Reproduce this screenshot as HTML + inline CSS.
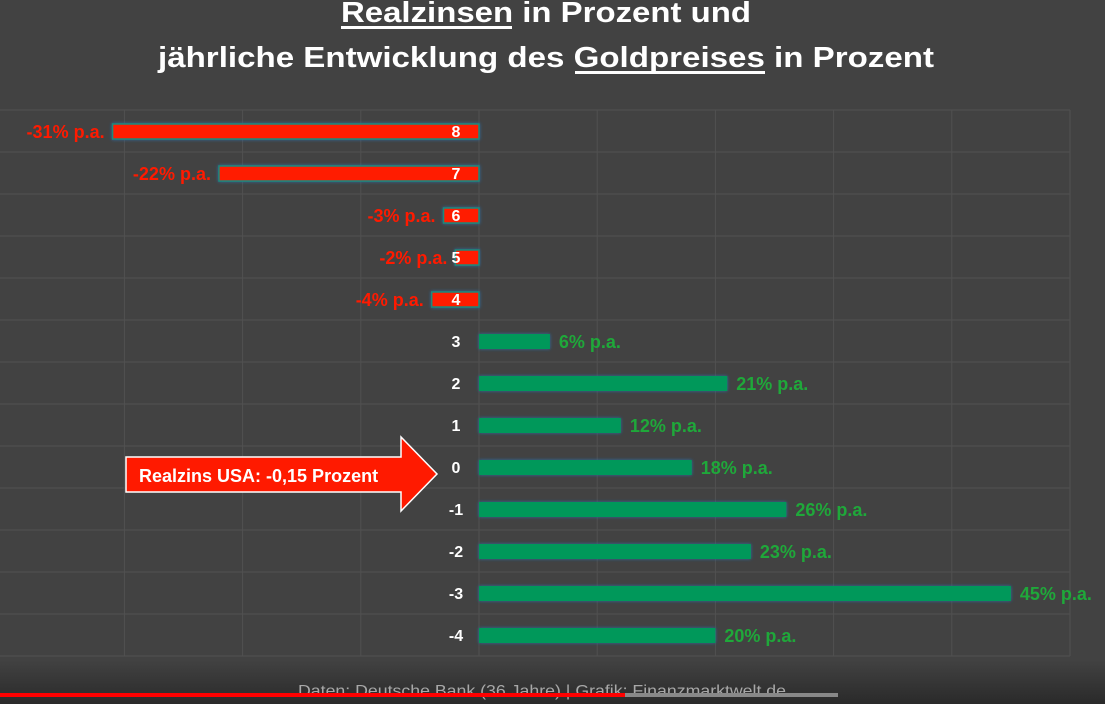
<!DOCTYPE html>
<html><head><meta charset="utf-8"><style>
html,body{margin:0;padding:0;background:#424242;}
svg{display:block;font-family:"Liberation Sans",sans-serif;}
</style></head><body>
<svg id="chart" width="1105" height="704" viewBox="0 0 1105 704">
<defs>
<linearGradient id="bot" x1="0" y1="0" x2="0" y2="1"><stop offset="0" stop-color="#424242"/><stop offset="1" stop-color="#2a2a2a"/></linearGradient>
<filter id="glow" x="-10%" y="-50%" width="120%" height="200%"><feDropShadow dx="0" dy="0" stdDeviation="1.5" flood-color="#2a6fb0" flood-opacity="0.9"/></filter>
</defs>
<rect width="1105" height="704" fill="#424242"/>
<rect y="660" width="1105" height="44" fill="url(#bot)"/>
<g fill="#fff" font-weight="bold" text-anchor="middle" font-size="29">
<text x="546" y="22" textLength="410" lengthAdjust="spacingAndGlyphs">Realzinsen in Prozent und</text>
<text x="546" y="67" textLength="776" lengthAdjust="spacingAndGlyphs">jährliche Entwicklung des Goldpreises in Prozent</text>
<rect x="341" y="26" width="171" height="3" fill="#fff"/>
<rect x="575" y="71" width="190" height="3" fill="#fff"/>
</g>
<g id="grid"></g>
<g id="bars"></g>
<g>
<polygon points="126,457 401,457 401,437 437,474 401,511 401,492 126,492" fill="#ff1a00" stroke="#fff" stroke-width="1.5"/>
<text x="139" y="482" fill="#fff" font-weight="bold" font-size="18">Realzins USA: -0,15 Prozent</text>
</g>
<text x="542" y="696" fill="#a8a8a8" font-size="16" text-anchor="middle" textLength="488" lengthAdjust="spacingAndGlyphs">Daten: Deutsche Bank (36 Jahre) | Grafik: Finanzmarktwelt.de</text>
<rect x="0" y="693" width="838" height="4" fill="#888"/>
<rect x="0" y="693" width="625" height="4" fill="#f00"/>
</svg>
<script>
const categories = ["8","7","6","5","4","3","2","1","0","-1","-2","-3","-4"];
const values = [-31,-22,-3,-2,-4,6,21,12,18,26,23,45,20];
const valueLabels = ["-31% p.a.","-22% p.a.","-3% p.a.","-2% p.a.","-4% p.a.","6% p.a.","21% p.a.","12% p.a.","18% p.a.","26% p.a.","23% p.a.","45% p.a.","20% p.a."];
const xTicks = [-30,-20,-10,0,10,20,30,40,50];
const NS="http://www.w3.org/2000/svg";
const x = v => 479 + v*11.82;
const y = i => 131 + i*42;
function mk(t,a,p){const e=document.createElementNS(NS,t);for(const k in a)e.setAttribute(k,a[k]);p.appendChild(e);return e;}
const grid=document.getElementById('grid'), bars=document.getElementById('bars');
xTicks.forEach(t=>{
  const l=mk('line',{x1:x(t),x2:x(t),y1:110,y2:656,stroke:'#515151','stroke-width':1},grid);
  
  
});
for(let i=0;i<=categories.length;i++){
  const l=mk('line',{x1:0,x2:1070,y1:y(i)-21,y2:y(i)-21,stroke:'#515151','stroke-width':1},grid);
  
  
}
categories.forEach((c,i)=>{
  const v=values[i], neg=v<0;
  const x0=Math.min(x(0),x(v)), w=Math.abs(x(v)-x(0));
  const r=mk('rect',{x:x0,y:y(i)-7,width:w,height:15,fill:neg?'#ff1a00':'#00985a',stroke:neg?'#1b8a7a':'none','stroke-width':1.5,filter:'url(#glow)'},bars);
  
  
  const ct=mk('text',{x:x(0)-23,y:y(i)+6,fill:'#fff','font-weight':'bold','font-size':16,'text-anchor':'middle'},bars);
  ct.textContent=c;
  
  
  const vt=mk('text',{x:neg?x(v)-8:x(v)+9,y:y(i)+7,fill:neg?'#ff1a00':'#1fa83a','font-weight':'bold','font-size':18,'text-anchor':neg?'end':'start'},bars);
  vt.textContent=valueLabels[i];
  
  
});
</script>
</body></html>
